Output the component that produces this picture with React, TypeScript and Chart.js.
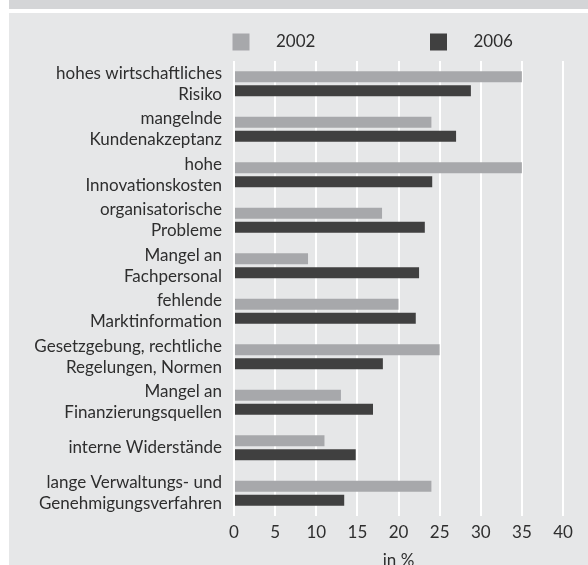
import React, { useEffect, useRef } from "react";
import { Chart, registerables } from "chart.js";

Chart.register(...registerables);

const categories: string[][] = [
  ["hohes wirtschaftliches", "Risiko"],
  ["mangelnde", "Kundenakzeptanz"],
  ["hohe", "Innovationskosten"],
  ["organisatorische", "Probleme"],
  ["Mangel an", "Fachpersonal"],
  ["fehlende", "Marktinformation"],
  ["Gesetzgebung, rechtliche", "Regelungen, Normen"],
  ["Mangel an", "Finanzierungsquellen"],
  ["interne Widerstände"],
  ["lange Verwaltungs- und", "Genehmigungsverfahren"],
];

const seriesNames = ["2002", "2006"];
const values2002 = [35, 24, 35, 18, 9, 20, 25, 13, 11, 24];
const values2006 = [28.8, 27, 24.1, 23.2, 22.5, 22.1, 18.1, 16.9, 14.8, 13.4];

const xMin = 0;
const xMax = 40;
const xStep = 5;
const xTitle = "in %";

const FONT = "Lato";
const TEXT = "#2e2e2e";
const COLOR_2002 = "#a7a8ab";
const COLOR_2006 = "#404040";

const legendPlugin = {
  id: "customLegend",
  afterDraw(chart: any) {
    const { ctx, chartArea } = chart;
    ctx.save();
    chart.data.datasets.forEach((ds: any, i: number) => {
      const bx = chartArea.left - 1.5 + i * 197.5;
      const by = 33.5;
      ctx.fillStyle = ds.backgroundColor;
      ctx.fillRect(bx, by, 17, 17);
      ctx.fillStyle = TEXT;
      ctx.font = `17px ${FONT}`;
      ctx.textBaseline = "middle";
      ctx.textAlign = "left";
      ctx.fillText(ds.label, bx + 43.5, by + 8.5);
    });
    ctx.restore();
  },
};

export default function App() {
  const ref = useRef<HTMLCanvasElement | null>(null);

  useEffect(() => {
    if (!ref.current) return;
    const chart = new Chart(ref.current, {
      type: "bar",
      data: {
        labels: categories,
        datasets: [
          {
            label: seriesNames[0],
            data: values2002,
            backgroundColor: COLOR_2002,
            borderWidth: 0,
            categoryPercentage: 0.617,
            barPercentage: 0.786,
          },
          {
            label: seriesNames[1],
            data: values2006,
            backgroundColor: COLOR_2006,
            borderWidth: 0,
            categoryPercentage: 0.617,
            barPercentage: 0.786,
          },
        ],
      },
      options: {
        indexAxis: "y",
        responsive: false,
        animation: false,
        devicePixelRatio: 1,
        layout: { padding: { top: 61, right: 25, left: 0, bottom: 0 } },
        plugins: {
          legend: { display: false },
          tooltip: { enabled: false },
        },
        scales: {
          x: {
            type: "linear",
            position: "bottom",
            min: xMin,
            max: xMax,
            ticks: {
              stepSize: xStep,
              color: TEXT,
              padding: 6,
              font: { family: FONT, size: 17 },
            },
            grid: { color: "#ffffff", lineWidth: 2, drawTicks: false },
            border: { display: false },
            title: {
              display: true,
              text: xTitle,
              color: TEXT,
              font: { family: FONT, size: 17, lineHeight: 1 },
              padding: { top: 0, bottom: -4 },
            },
            afterFit(scale: any) {
              scale.height = 49;
            },
          },
          y: {
            type: "category",
            grid: { display: false, drawTicks: false },
            border: { display: false },
            ticks: {
              color: TEXT,
              padding: 12,
              font: { family: FONT, size: 17, lineHeight: 1.21 },
            },
            afterFit(scale: any) {
              scale.width = 234;
            },
          },
        },
      },
      plugins: [legendPlugin],
    });
    return () => chart.destroy();
  }, []);

  return (
    <div
      style={{
        position: "absolute",
        left: 0,
        top: 0,
        width: 588,
        height: 565,
        background: "#ffffff",
        overflow: "hidden",
      }}
    >
      <div
        style={{
          position: "absolute",
          left: 9,
          top: 0,
          width: 579,
          height: 9,
          background: "#d4d5d7",
        }}
      />
      <div
        style={{
          position: "absolute",
          left: 9,
          top: 13,
          width: 579,
          height: 552,
          background: "#e6e7e8",
        }}
      />
      <canvas
        ref={ref}
        width={588}
        height={565}
        style={{ position: "absolute", left: 0, top: 0, width: 588, height: 565 }}
      />
    </div>
  );
}
